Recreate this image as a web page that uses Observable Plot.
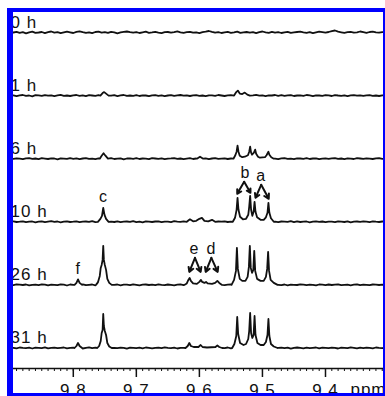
<!DOCTYPE html>
<html>
<head>
<meta charset="utf-8">
<script src="https://cdn.jsdelivr.net/npm/d3@7"></script>
<script src="https://cdn.jsdelivr.net/npm/@observablehq/plot@0.6"></script>
<style>
  html, body { margin: 0; padding: 0; background: #fff; }
  #wrap { position: relative; width: 385px; height: 396px; overflow: hidden; }
  #wrap svg text { letter-spacing: 1px; }
  #border { position: absolute; left: 7px; top: 8px; width: 378px; height: 388px;
            box-sizing: border-box; border-style: solid; border-color: #0000ff;
            border-width: 4px 2px 3px 6px; pointer-events: none; }
</style>
</head>
<body>
<div id="wrap"><div id="border"></div></div>
<script>
// ---- data ----
const rowLabels = ["0 h", "1 h", "6 h", "10 h", "26 h", "31 h"];

// baseline noise, sampled from 9.895 ppm downward every 0.005 ppm (px units)
const noiseStart = 9.895, noiseStep = 0.005;
const noise0h = [0,.6,-.4,.3,-.8,.2,.9,-.3,0,.5, -.6,.4,1,-.2,.3,-.7,.1,.8,.2,-.5, .6,1.2,.4,-.3,.2,-.6,.5,.9,-.1,.3,
  -.4,.7,.2,-.8,.1,.6,1,.3,-.2,.4, -.5,.2,.8,-.3,.1,.6,-.2,-.7,.3,.5, -.1,.4,1.1,.2,-.4,.3,.7,-.2,.1,-.6,
  .4,.8,1.5,.6,-.2,.3,-.5,.1,.6,-.3, .2,.9,-.4,.1,.5,-.2,.3,-.7,.4,1, .2,-.3,.6,-.1,.3,-.5,.2,.7,-.4,.1,
  .5,.9,.2,-.3,.4,-.6,.1,.8,.3,-.2, .5,1.4,2,.8,.2,-.4,.3,.6,-.1,.2, 1,.4,-.3,.5,.8,.1,-.2,.4,.3,-.1];
const noise1h = [.3,-.5,.2,.6,-.2,.1,-.7,.4,.2,-.3, .5,-.1,.3,-.6,.2,.7,-.2,.1,-.4,.3, .6,-.3,.2,-.5,.4,.1,-.2,.5,-.6,.2,
  .3,-.1,.4,-.5,.2,.6,-.3,.1,-.2,.4, -.4,.3,.1,-.6,.2,.5,-.2,.3,-.5,.1, .4,-.3,.2,.6,-.1,.3,-.4,.2,.5,-.2,
  .1,-.5,.3,.2,-.3,.6,.1,-.4,.2,.5, -.2,.3,-.6,.1,.4,-.2,.3,.7,-.1,.2, -.5,.3,.1,.6,-.2,.4,-.3,.2,.5,-.4,
  .1,.3,-.2,.6,.2,-.5,.3,.1,-.3,.4, .2,-.4,.5,.1,-.2,.3,-.6,.2,.4,-.1, .3,-.3,.2,.5,-.2,.1,-.4,.3,.2,-.1];
const noise6h = [-.2,.4,.1,-.5,.3,.6,-.1,.2,-.4,.5, .1,-.3,.4,.2,-.6,.3,.1,-.2,.5,-.1, .3,-.4,.2,.6,-.2,.1,-.5,.3,.4,-.2,
  .2,.5,-.3,.1,.4,-.6,.2,.3,-.1,.5, -.3,.2,.1,-.4,.6,.2,-.2,.4,-.5,.1, .3,.6,-.2,.2,-.4,.1,.5,-.3,.2,.4,
  -.1,.3,-.5,.2,.6,-.2,.1,.4,-.3,.2, .5,-.1,.3,-.4,.2,.1,-.6,.3,.5,-.2, .2,-.3,.4,.1,-.5,.3,.6,-.2,.1,-.4,
  .3,.2,-.1,.5,-.3,.2,.4,-.5,.1,.3, -.2,.4,.6,-.1,.2,-.4,.3,.1,-.3,.5, .2,-.2,.4,.1,-.3,.3,.5,-.1,.2,-.2];
const noise10h = [.4,-.2,.1,.5,-.4,.2,.3,-.6,.1,.4, -.3,.2,.6,-.1,.3,-.5,.2,.4,-.2,.1, .5,-.4,.2,.3,-.1,.6,-.3,.2,.1,-.5,
  .3,.2,-.2,.5,-.4,.1,.3,-.1,.6,-.3, .2,-.5,.4,.1,-.2,.3,.5,-.4,.2,.1, -.3,.6,.2,-.1,.4,-.5,.2,.3,-.2,.5,
  .1,-.3,.4,.2,-.6,.3,.1,.5,-.2,.2, -.4,.3,.6,-.1,.2,-.3,.4,.1,-.5,.3, .2,.5,-.2,.1,-.4,.3,.2,-.1,.6,-.3,
  .4,-.2,.1,.3,-.5,.2,.5,-.1,.3,-.4, .2,.1,-.3,.5,.2,-.2,.4,-.6,.1,.3, -.1,.4,.2,-.3,.5,.1,-.2,.3,.2,-.1];
const noise26h = [-.3,.5,.2,-.1,.4,-.5,.1,.3,-.2,.6, .2,-.4,.3,.1,-.3,.5,.2,-.6,.4,.1, -.2,.3,.6,-.3,.1,.4,-.5,.2,.3,-.1,
  .5,-.2,.1,.4,-.4,.3,.2,-.3,.6,.1, -.5,.2,.4,-.1,.3,-.3,.5,.1,-.2,.4, .1,-.4,.3,.6,-.2,.2,-.5,.4,.1,-.3,
  .3,.5,-.1,.2,-.6,.4,.1,-.2,.3,.5, -.3,.2,.1,-.4,.5,.3,-.2,.1,.4,-.5, .2,.3,-.3,.6,.1,-.2,.4,-.4,.2,.1,
  -.1,.5,.3,-.3,.2,.1,-.5,.4,.2,-.2, .4,-.1,.2,.5,-.3,.1,.3,-.4,.2,.6, -.2,.3,.1,-.3,.4,.2,-.1,.3,-.2,.1];
const noise31h = [.2,-.4,.5,.1,-.2,.3,-.5,.4,.2,-.1, .6,-.3,.1,.4,-.2,.2,.5,-.4,.1,.3, -.2,.4,-.5,.2,.6,-.1,.3,-.3,.2,.1,
  -.4,.5,.2,-.2,.3,.1,-.6,.4,.2,-.1, .3,-.3,.5,.1,-.4,.2,.4,-.2,.6,.1, -.1,.3,-.5,.2,.1,.4,-.3,.5,-.2,.2,
  .4,-.2,.1,.6,-.4,.3,.2,-.1,.5,-.3, .1,.4,-.2,.3,-.5,.2,.6,-.1,.3,-.4, .2,-.1,.5,-.3,.1,.4,-.2,.3,-.6,.2,
  .5,.1,-.3,.4,-.1,.2,.5,-.4,.3,.1, -.2,.4,.2,-.5,.3,.1,-.2,.6,.2,-.3, .3,-.1,.4,.2,-.3,.5,.1,-.2,.3,.2];

// peak clusters: [ppm, height above baseline (px)]
const peaks0h = [];
const peaks1h = [
  [[9.757,0],[9.7535,2.5],[9.751,3.5],[9.748,2],[9.744,0]],
  [[9.545,0],[9.5415,3.5],[9.539,5],[9.536,2],[9.532,1.5],[9.528,3],[9.524,1],[9.520,0]]
];
const peaks6h = [
  [[9.758,0],[9.755,3],[9.752,5.5],[9.749,3],[9.745,0]],
  [[9.604,0],[9.599,2],[9.594,0]],
  [[9.546,0],[9.543,3.5],[9.541,7],[9.5395,13],[9.538,7],[9.536,3],[9.532,1.5],[9.528,2],[9.523,3.5],[9.521,7],
   [9.5195,12],[9.518,6],[9.5165,4],[9.5135,6],[9.5115,9],[9.510,5],[9.507,2],[9.504,1],[9.496,1.5],
   [9.4935,3.5],[9.4905,7],[9.489,4],[9.486,1.5],[9.482,0]]
];
const peaks10h = [
  [[9.761,0],[9.757,3],[9.7545,6],[9.7525,14],[9.7505,7],[9.748,3],[9.744,0]],
  [[9.620,0],[9.615,2.5],[9.610,.5],[9.605,1],[9.600,3],[9.596,4],[9.592,1],[9.586,.5],[9.580,2],[9.575,0]],
  [[9.547,0],[9.5435,4],[9.541,12],[9.5395,24],[9.538,12],[9.5355,5],[9.531,2.5],[9.526,3],[9.5225,7],
   [9.521,15],[9.5195,26],[9.518,12],[9.516,6],[9.514,10],[9.5125,20],[9.511,10],[9.5085,4.5],[9.503,2],
   [9.498,2],[9.4945,4.5],[9.492,9],[9.4905,19],[9.489,9],[9.4865,3.5],[9.482,0]]
];
const peaks26h = [
  [[9.798,0],[9.795,2],[9.7925,5.5],[9.790,2],[9.786,0]],
  [[9.764,0],[9.761,2.5],[9.758,9],[9.7565,17],[9.755,20],[9.7535,25],[9.7525,39],[9.7515,25],[9.750,20],
   [9.748,15],[9.746,6],[9.743,2],[9.739,0]],
  [[9.624,0],[9.620,1.5],[9.6175,5],[9.6155,7],[9.6135,4],[9.610,1.5],[9.604,1],[9.600,3],[9.5975,5],
   [9.5955,3],[9.592,2],[9.5895,3],[9.587,1.5],[9.580,1],[9.575,2],[9.5715,4],[9.5685,2],[9.564,0]],
  [[9.549,0],[9.545,5],[9.542,14],[9.5405,37],[9.539,16],[9.536,6],[9.532,4],[9.527,4],[9.5235,8],
   [9.5215,18],[9.520,39],[9.5185,17],[9.5165,12],[9.5145,15],[9.513,34],[9.5115,14],[9.5085,6],[9.503,4],
   [9.498,4],[9.4945,8],[9.4925,16],[9.491,33],[9.4895,14],[9.487,5],[9.482,2],[9.476,0]]
];
const peaks31h = [
  [[9.798,0],[9.795,2],[9.7925,5],[9.790,2],[9.786,0]],
  [[9.762,0],[9.759,2],[9.7565,7],[9.755,15],[9.7535,18],[9.7525,34],[9.7515,22],[9.750,17],[9.748,13],
   [9.746,5],[9.743,1.5],[9.739,0]],
  [[9.622,0],[9.6185,2],[9.616,5],[9.6135,2],[9.609,1],[9.6015,1],[9.598,3],[9.595,1],[9.588,.5],
   [9.5745,1],[9.5715,2.5],[9.5685,1],[9.564,0]],
  [[9.548,0],[9.5445,4],[9.5415,12],[9.540,31],[9.5385,14],[9.5355,5],[9.530,3],[9.526,4],[9.5225,9],
   [9.521,17],[9.5195,35],[9.518,15],[9.516,10],[9.514,13],[9.5125,32],[9.511,13],[9.508,5],[9.503,3],
   [9.498,3],[9.4945,6],[9.492,13],[9.4905,29],[9.489,12],[9.4865,4],[9.482,1.5],[9.476,0]]
];

// axis
const majorTicks = [9.8, 9.7, 9.6, 9.5, 9.4];
const tickLabels = ["9.8", "9.7", "9.6", "9.5", "9.4"];
const minorTicks = d3.range(0, 60).map(i => +(9.89 - i * 0.01).toFixed(2));
const axisUnit = "ppm";

// annotations: label, row, ppm, height above baseline
const annoText = ["c", "b", "a", "e", "d", "f"];
const annoRow  = ["10 h", "10 h", "10 h", "26 h", "26 h", "26 h"];
const annoPpm  = [9.752, 9.527, 9.502, 9.608, 9.581, 9.792];
const annoRise = [20, 44, 41, 31, 31, 11];
// arrows: row, [ppm, rise] start -> [ppm, rise] end
const arrowRow  = ["10 h", "10 h", "10 h", "10 h", "26 h", "26 h", "26 h", "26 h"];
const arrowFrom = [[9.529,40],[9.529,40],[9.502,37],[9.502,37],[9.607,27],[9.607,27],[9.581,27],[9.581,27]];
const arrowTo   = [[9.540,28],[9.519,29],[9.511,24],[9.490,23],[9.616,13],[9.598,13],[9.590,13],[9.571,13]];

// ---- build ----
const noiseRows = [noise0h, noise1h, noise6h, noise10h, noise26h, noise31h];
const peakRows = [peaks0h, peaks1h, peaks6h, peaks10h, peaks26h, peaks31h];
const rowGap = 63.1, bottomGap = 20.5;
const base = label => bottomGap + rowGap * (rowLabels.length - 1 - rowLabels.indexOf(label));

const spectra = [];
rowLabels.forEach((label, r) => {
  const clusters = peakRows[r];
  const pts = [];
  noiseRows[r].forEach((v, i) => {
    const ppm = noiseStart - i * noiseStep;
    const inside = clusters.some(c => ppm <= c[0][0] && ppm >= c[c.length - 1][0]);
    if (!inside) pts.push([ppm, v]);
  });
  clusters.forEach(c => c.forEach(p => pts.push(p)));
  pts.sort((a, b) => b[0] - a[0]);
  pts.forEach(([ppm, v]) => spectra.push({row: label, ppm, y: base(label) + v}));
});

const annos = annoText.map((t, i) => ({text: t, ppm: annoPpm[i], y: base(annoRow[i]) + annoRise[i]}));
const arrows = arrowRow.map((r, i) => ({
  x1: arrowFrom[i][0], y1: base(r) + arrowFrom[i][1],
  x2: arrowTo[i][0], y2: base(r) + arrowTo[i][1]
}));
const rowsData = rowLabels.map(l => ({label: l, y: base(l) + 5}));

const font = "'Liberation Sans', Arial, Helvetica, sans-serif";
const ink = "#111";

const chart = Plot.plot({
  width: 385, height: 396,
  marginLeft: 11, marginRight: 2, marginTop: 0, marginBottom: 28,
  style: {fontFamily: font, fontSize: "17px", color: ink, background: "#fff"},
  x: {domain: [9.898, 9.308], axis: null},
  y: {domain: [0, 368], axis: null},
  marks: [
    Plot.line(spectra, {x: "ppm", y: "y", z: "row", stroke: ink, strokeWidth: 1.8, curve: "linear",
      strokeLinejoin: "round"}),
    Plot.ruleY([0], {stroke: ink, strokeWidth: 1.5}),
    Plot.ruleX(minorTicks, {x: d => d, y1: 0, y2: -3, stroke: ink, strokeWidth: 1}),
    Plot.axisX(majorTicks, {tickSize: 9, tickPadding: 6, tickFormat: (d) => tickLabels[majorTicks.indexOf(d)],
      stroke: ink, strokeWidth: 1.5, fontSize: 17, fill: ink}),
    Plot.text([axisUnit], {frameAnchor: "bottom-right", dy: 14, dx: 3, textAnchor: "end", lineAnchor: "top",
      fontSize: 17, fill: ink}),
    Plot.text(rowsData, {frameAnchor: "left", y: "y", text: "label", textAnchor: "start", lineAnchor: "bottom",
      dx: -1, fontSize: 17, fill: ink}),
    Plot.text(annos, {x: "ppm", y: "y", text: "text", lineAnchor: "bottom", fontSize: 16, fill: ink}),
    Plot.arrow(arrows, {x1: "x1", y1: "y1", x2: "x2", y2: "y2", stroke: ink, strokeWidth: 2,
      headLength: 6, headAngle: 60})
  ]
});
document.getElementById("wrap").insertBefore(chart, document.getElementById("border"));
</script>
</body>
</html>
